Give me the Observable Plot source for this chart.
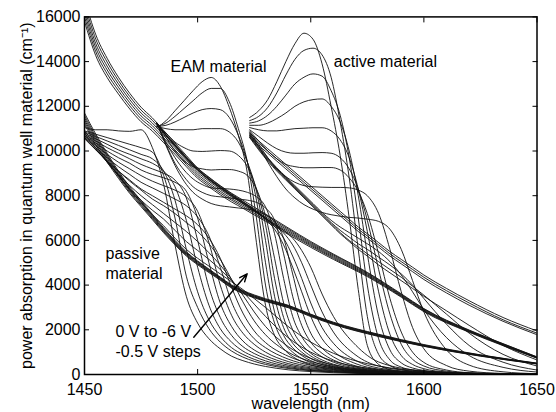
<!DOCTYPE html>
<html><head><meta charset="utf-8">
<script src="https://cdn.jsdelivr.net/npm/d3@7"></script>
<script src="https://cdn.jsdelivr.net/npm/@observablehq/plot@0.6"></script>
<style>html,body{margin:0;padding:0;background:#fff;}</style>
</head><body><div id="chart"></div>
<script>
// ---- axis ticks ----
const xTicks = [1450, 1500, 1550, 1600, 1650];
const yTicks = [0, 2000, 4000, 6000, 8000, 10000, 12000, 14000, 16000];

// ---- passive material: 13 bias curves (0 V .. -6 V) ----
const passiveWl = [1450,1455,1460,1465,1470,1475,1480,1485,1490,1495,1500,1505,1510,1515,1520,1525,1530,1540,1550,1560,1580,1600,1625,1650];
const passiveCurves = [
  [11050,10950,10950,10900,10880,10950,10150,8500,5800,3500,2300,1600,1150,820,620,470,360,210,130,80,30,12,5,2],
  [10900,10750,10600,10450,10300,10150,9950,8900,7000,4400,3000,2050,1450,1050,780,590,450,270,170,110,45,18,7,3],
  [10850,10650,10450,10250,10050,9850,9650,9100,7800,5600,3700,2450,1700,1200,900,680,520,310,190,125,50,20,8,3],
  [10800,10550,10300,10050,9850,9650,9450,9100,8400,6900,4800,3100,2050,1450,1050,800,610,360,220,140,55,22,9,4],
  [10750,10450,10150,9900,9650,9400,9200,9000,8700,7900,6000,3900,2550,1750,1250,940,720,420,260,165,65,26,10,4],
  [10700,10350,10000,9700,9450,9150,8950,8800,8600,8200,7000,5000,3200,2150,1500,1100,840,490,300,190,75,30,12,5],
  [10650,10250,9850,9500,9200,8900,8650,8450,8250,7950,7300,5900,4000,2650,1850,1350,1000,580,350,220,85,34,13,5],
  [10600,10150,9700,9300,8950,8600,8350,8100,7850,7550,7050,6200,4800,3250,2250,1600,1200,690,410,260,100,40,15,6],
  [10550,10050,9550,9100,8700,8300,8000,7700,7400,7100,6700,6100,5200,3900,2750,1950,1430,820,480,300,115,45,17,7],
  [10600,10050,9550,9100,8650,8250,7850,7550,7200,6800,6400,5850,5150,4250,3250,2400,1780,1000,580,350,135,52,20,8],
  [10700,10100,9500,8950,8450,8000,7600,7200,6800,6400,5950,5450,4900,4250,3550,2800,2150,1250,720,430,160,62,24,9],
  [10800,10150,9500,8900,8300,7800,7350,6950,6450,5950,5550,5150,4700,4200,3700,3150,2600,1650,1000,600,220,85,32,12],
  [10900,10250,9550,8900,8250,7700,7150,6650,6100,5600,5200,4850,4500,4150,3800,3400,3000,2150,1450,950,380,150,55,20]
];
const passiveBundle = [
  [11700,10750,9900,9100,8400,7780,7170,6560,6000,5490,5080,4720,4360,4010,3760,3560,3390,3100,2700,2340,1800,1340,880,510],
  [11600,10650,9820,9040,8340,7730,7120,6510,5960,5450,5050,4690,4330,3980,3730,3530,3360,3080,2680,2320,1780,1320,870,500],
  [11500,10560,9750,8980,8280,7680,7080,6480,5920,5420,5020,4660,4310,3960,3710,3510,3340,3060,2660,2300,1760,1300,855,490],
  [11400,10470,9670,8920,8220,7620,7030,6430,5880,5380,4980,4630,4280,3930,3680,3480,3310,3040,2640,2280,1740,1290,845,485],
  [11300,10380,9590,8850,8160,7570,6980,6390,5840,5340,4950,4600,4250,3900,3650,3460,3290,3010,2620,2260,1720,1270,830,475],
  [11200,10280,9500,8780,8100,7510,6930,6340,5800,5300,4910,4560,4220,3870,3620,3430,3270,2990,2590,2240,1700,1260,820,470]
];

// ---- EAM material ----
const eamWl = [1482,1486,1490,1494,1498,1502,1506,1510,1514,1518,1522,1526,1530,1534,1538,1542,1546,1550,1555,1560,1570,1580,1600,1625,1650];
const eamCurves = [
  [11050,11350,11800,12250,12700,13100,13290,12900,11950,10700,9000,5900,3100,1750,1150,800,580,430,310,230,140,85,35,12,5],
  [11100,11250,11550,11900,12250,12600,12800,12800,12200,11000,9500,7000,4000,2300,1450,1000,720,530,380,280,160,95,40,14,5],
  [11100,11150,11300,11500,11700,11850,11900,11850,11500,10700,9500,7800,5000,2800,1750,1200,850,620,440,320,180,105,45,15,6],
  [11100,11000,10950,10950,10950,11000,11000,11000,10850,10400,9500,8200,6000,3500,2100,1400,1000,720,500,360,200,115,48,16,6],
  [11150,10800,10400,10150,10000,9980,10000,10020,10000,9800,9300,8300,6700,4300,2550,1650,1150,830,570,400,220,125,52,18,7],
  [11200,10600,10000,9550,9300,9200,9150,9170,9170,9100,8900,8300,7100,5200,3200,2000,1350,950,650,460,250,140,56,19,7],
  [11250,10400,9700,9150,8750,8500,8350,8320,8300,8250,8150,7950,7500,6300,4300,2600,1700,1170,790,550,290,160,62,21,8],
  [11250,10300,9450,8850,8400,8150,8000,7950,7900,7850,7800,7700,7450,6900,5400,3500,2200,1450,950,650,330,180,70,23,8],
  [11250,10250,9350,8650,8150,7850,7650,7550,7500,7450,7400,7300,7150,6850,6100,4500,2900,1850,1180,790,380,200,75,25,9],
  [11250,10750,10300,9850,9420,9050,8730,8430,8150,7880,7600,7300,6950,6500,5800,4800,3700,2600,1600,1050,480,240,85,28,10],
  [11250,10720,10270,9820,9390,9010,8690,8390,8110,7840,7570,7290,6980,6620,6100,5300,4300,3200,2100,1400,620,290,100,32,11],
  [11250,10700,10240,9790,9360,8980,8660,8360,8080,7810,7540,7270,6990,6690,6330,5800,5000,4000,2800,1900,860,380,120,38,12],
  [11250,10680,10210,9760,9330,8950,8630,8330,8050,7780,7510,7250,6990,6720,6450,6100,5550,4800,3600,2600,1300,560,160,45,14]
];
const eamBundleWl = [1450,1455,1460,1465,1470,1475,1480,1485,1490,1495,1500,1505,1510,1515,1520,1525,1530,1540,1550,1560,1575,1590,1600,1620,1635,1650];
const eamBundle = [
  [16800,15200,14150,13300,12580,11960,11480,10920,10360,9800,9240,8830,8450,8110,7800,7490,7180,6560,5950,5390,4570,3610,2950,1990,1380,790],
  [16600,15000,13980,13150,12440,11830,11370,10810,10250,9700,9150,8740,8370,8030,7720,7420,7120,6510,5900,5350,4540,3580,2930,1970,1370,780],
  [16400,14800,13800,13000,12300,11700,11250,10700,10150,9600,9050,8650,8280,7950,7650,7350,7050,6450,5850,5300,4500,3550,2900,1950,1350,760],
  [16200,14620,13630,12850,12160,11570,11130,10590,10050,9500,8960,8560,8200,7870,7580,7280,6990,6390,5800,5250,4460,3520,2870,1930,1330,750],
  [16000,14440,13460,12700,12020,11440,11010,10480,9950,9400,8870,8480,8120,7800,7510,7210,6920,6330,5750,5200,4420,3490,2840,1910,1310,740],
  [15800,14260,13290,12550,11880,11310,10890,10370,9850,9300,8780,8400,8040,7720,7440,7140,6860,6270,5690,5150,4380,3460,2810,1890,1290,730]
];

// ---- active material ----
const activeWl = [1523,1527,1531,1535,1539,1543,1547,1551,1555,1559,1563,1567,1571,1575,1580,1585,1590,1595,1600,1610,1620,1635,1650];
const activeCurves = [
  [11500,11800,12300,13100,14000,14800,15270,15000,13900,12000,9800,7000,3800,1300,450,220,130,90,60,30,15,6,3],
  [11360,11550,11950,12600,13400,14100,14500,14600,14300,13300,11300,8800,5600,2600,900,400,220,140,95,45,22,9,4],
  [11250,11350,11600,12000,12500,13000,13300,13450,13350,12700,11600,9700,7000,4000,1600,650,330,200,130,60,28,11,5],
  [11150,11150,11250,11450,11700,12000,12200,12300,12330,12000,11300,10000,8000,5400,2600,1100,520,290,180,80,36,14,6],
  [11050,10950,10900,10900,10950,11000,11020,11040,11040,10900,10500,9700,8300,6400,3700,1800,850,450,260,110,48,18,7],
  [10950,10650,10350,10100,9950,9900,9900,9920,9930,9900,9700,9200,8300,6900,4700,2700,1350,680,380,150,62,22,8],
  [10900,10450,10000,9650,9400,9300,9250,9250,9260,9260,9150,8800,8200,7200,5400,3400,1900,1000,540,200,80,28,10],
  [10850,10300,9700,9200,8850,8600,8450,8400,8380,8370,8370,8350,8250,8000,7200,5600,3700,2100,1150,400,150,48,16],
  [10800,10200,9500,8850,8300,7900,7600,7400,7250,7150,7080,7030,7000,6950,6850,6500,5600,4200,2800,1100,420,120,38],
  [10750,10200,9700,9250,8850,8450,8050,7650,7250,6900,6600,6350,6100,5850,5500,5050,4450,3700,2900,1650,850,320,110],
  [10700,10150,9650,9200,8800,8400,8000,7600,7200,6800,6450,6150,5850,5600,5250,4900,4500,4000,3400,2250,1300,550,200],
  [10650,10100,9600,9150,8750,8350,7950,7550,7150,6750,6350,6000,5700,5400,5050,4700,4350,3950,3550,2700,1850,900,380],
  [10600,10050,9550,9100,8700,8300,7900,7500,7100,6700,6300,5950,5600,5300,4900,4550,4200,3850,3500,2850,2200,1300,650]
];
const activeBundle = [
  [10800,10450,10100,9750,9400,9050,8700,8350,8000,7650,7300,6950,6600,6300,5900,5500,5150,4800,4450,3850,3300,2550,1950],
  [10700,10350,10000,9650,9300,8950,8600,8250,7900,7550,7200,6850,6500,6200,5800,5400,5050,4700,4350,3750,3200,2450,1850],
  [10600,10250,9900,9550,9200,8850,8500,8150,7800,7450,7100,6750,6400,6100,5700,5300,4950,4600,4250,3650,3100,2380,1780]
];

// ---- annotations (data coordinates) ----
const singleLabels = [
  {text: "EAM material", wl: 1488.0, a: 13525},
  {text: "active material", wl: 1560.2, a: 13750}
];
const passiveLabel = [{text: "passive\nmaterial", wl: 1459.3, a: 4295}];
const stepLabel = [{text: "0 V to -6 V\n-0.5 V steps", wl: 1463.7, a: 770}];
const arrowData = [{wl1: 1498.3, a1: 1670, wl2: 1521.9, a2: 4505}];

// ---- build rows ----
const rows = [];
function addFamily(name, wl, curves) {
  curves.forEach((c, i) => c.forEach((v, j) => rows.push({id: name + i, wl: wl[j], a: v})));
}
addFamily("p", passiveWl, passiveCurves);
addFamily("pb", passiveWl, passiveBundle);
addFamily("e", eamWl, eamCurves);
addFamily("eb", eamBundleWl, eamBundle);
addFamily("a", activeWl, activeCurves);
addFamily("ab", activeWl, activeBundle);

const fmt = d3.format("d");
const chart = Plot.plot({
  width: 556, height: 412,
  marginLeft: 84, marginRight: 19.5, marginTop: 16.4, marginBottom: 38,
  style: {fontFamily: '"Liberation Sans", Arial, Helvetica, sans-serif', fontSize: "16px", background: "#fff", color: "#000"},
  x: {domain: [1450, 1650]},
  y: {domain: [0, 16000]},
  marks: [
    Plot.line(rows, {x: "wl", y: "a", z: "id", stroke: "#111", strokeWidth: 0.9, curve: "monotone-x", clip: true}),
    Plot.frame({strokeWidth: 1.5, stroke: "#000"}),
    // inward tick marks on all four sides
    Plot.axisX({anchor: "bottom", ticks: xTicks, tickSize: 5, dy: -5, fill: "none", label: null}),
    Plot.axisX({anchor: "top", ticks: xTicks, tickSize: 5, dy: 5, fill: "none", label: null}),
    Plot.axisY({anchor: "left", ticks: yTicks, tickSize: 5, dx: 5, fill: "none", label: null}),
    Plot.axisY({anchor: "right", ticks: yTicks, tickSize: 5, dx: -5, fill: "none", label: null}),
    // tick labels
    Plot.axisX({anchor: "bottom", ticks: xTicks, tickSize: 0, tickPadding: 9, tickFormat: fmt, label: null}),
    Plot.axisY({anchor: "left", ticks: yTicks, tickSize: 0, tickPadding: 4, tickFormat: fmt, label: null}),
    // axis titles
    Plot.text(["wavelength (nm)"], {frameAnchor: "bottom", dy: 34.5, lineAnchor: "bottom", textAnchor: "middle"}),
    Plot.text(["power absorption in quantum well material (cm\u207B\u00B9)"], {frameAnchor: "left", dx: -53, rotate: -90, lineAnchor: "bottom", textAnchor: "middle"}),
    // annotations
    Plot.text(singleLabels, {x: "wl", y: "a", text: "text", textAnchor: "start", lineAnchor: "bottom"}),
    Plot.text(passiveLabel, {x: "wl", y: "a", text: "text", textAnchor: "start", lineAnchor: "bottom", lineHeight: 1.2}),
    Plot.text(stepLabel, {x: "wl", y: "a", text: "text", textAnchor: "start", lineAnchor: "bottom", lineHeight: 1.25}),
    Plot.arrow(arrowData, {x1: "wl1", y1: "a1", x2: "wl2", y2: "a2", stroke: "#000", strokeWidth: 1.4, headLength: 9, headAngle: 45})
  ]
});
document.getElementById("chart").appendChild(chart);
</script>
</body></html>
